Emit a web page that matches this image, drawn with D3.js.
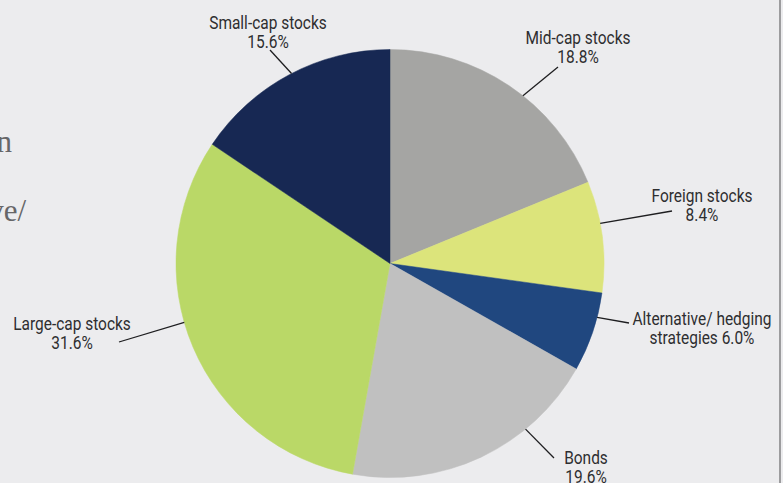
<!DOCTYPE html>
<html>
<head>
<meta charset="utf-8">
<script src="https://cdn.jsdelivr.net/npm/d3@7"></script>
<style>
  html, body { margin: 0; padding: 0; background: #ececee; }
  svg { display: block; }
  .lbl { font-family: Roboto, "Liberation Sans", sans-serif; font-size: 18px; fill: #2e2e30; }
  .side { font-family: "Liberation Serif", "Times New Roman", serif; font-size: 31px; fill: #666668; }
</style>
</head>
<body>
<svg id="chart" width="783" height="483"></svg>
<script>
// Portfolio allocation, clockwise from 12 o'clock
const categories = ["Mid-cap stocks", "Foreign stocks", "Alternative/ hedging strategies", "Bonds", "Large-cap stocks", "Small-cap stocks"];
const shares = [18.8, 8.4, 6.0, 19.6, 31.6, 15.6];
const labelLines = [
  ["Mid-cap stocks", "18.8%"],
  ["Foreign stocks", "8.4%"],
  ["Alternative/ hedging", "strategies 6.0%"],
  ["Bonds", "19.6%"],
  ["Large-cap stocks", "31.6%"],
  ["Small-cap stocks", "15.6%"]
];
const sliceColors = ["#a5a5a3", "#dce47b", "#20477f", "#c0c0c0", "#bad867", "#172853"];

// Callout layout: leader start angle on the rim (degrees clockwise from north),
// leader end point, and text centre / first baseline
const callouts = [
  { angle: 38.4,  ex: 558, ey: 67,  tx: 578, ty: 44 },
  { angle: 79.2,  ex: 672, ey: 211, tx: 702, ty: 202 },
  { angle: 104.6, ex: 629, ey: 323, tx: 702, ty: 325 },
  { angle: 140.7, ex: 554, ey: 458, tx: 586, ty: 464 },
  { angle: 254.0, ex: 119, ey: 342, tx: 72,  ty: 330 },
  { angle: 332.6, ex: 270, ey: 50,  tx: 268, ty: 29 }
];

const svg = d3.select("#chart");
const W = 783, H = 483;
const cx = 390, cy = 263.5, R = 214;
const squeeze = 0.86; // condensed look for the callout text

svg.append("rect").attr("width", W).attr("height", H).attr("fill", "#ececee");

// Fragments of the neighbouring text column, clipped at the left edge
svg.append("text").attr("class", "side").attr("x", 12).attr("y", 152).attr("text-anchor", "end").text("n");
svg.append("text").attr("class", "side").attr("x", 26).attr("y", 221).attr("text-anchor", "end").text("ve/");

// Frame edge on the right
svg.append("line").attr("x1", 780).attr("x2", 780).attr("y1", 0).attr("y2", H)
  .attr("stroke", "#9c9c9e").attr("stroke-width", 2);

const data = categories.map((c, i) => ({ name: c, value: shares[i], color: sliceColors[i], lines: labelLines[i], co: callouts[i] }));

const pie = d3.pie().sort(null).value(d => d.value).startAngle(0).endAngle(2 * Math.PI);
const arc = d3.arc().innerRadius(0).outerRadius(R);

const g = svg.append("g").attr("transform", `translate(${cx},${cy})`);
g.selectAll("path.slice")
  .data(pie(data))
  .join("path")
  .attr("class", "slice")
  .attr("d", arc)
  .attr("fill", d => d.data.color)
  .attr("stroke", d => d.data.color)
  .attr("stroke-width", 0.5);

// Leader lines
const rad = a => a * Math.PI / 180;
svg.selectAll("line.leader")
  .data(data)
  .join("line")
  .attr("class", "leader")
  .attr("x1", d => cx + R * Math.sin(rad(d.co.angle)))
  .attr("y1", d => cy - R * Math.cos(rad(d.co.angle)))
  .attr("x2", d => d.co.ex)
  .attr("y2", d => d.co.ey)
  .attr("stroke", "#1e1e20")
  .attr("stroke-width", 1.3);

// Two-line labels, narrowed horizontally
const labels = svg.selectAll("text.lbl")
  .data(data)
  .join("text")
  .attr("class", "lbl")
  .attr("text-anchor", "middle")
  .attr("transform", d => `translate(${d.co.tx},${d.co.ty}) scale(${squeeze},1)`);
labels.selectAll("tspan")
  .data(d => d.lines.map((t, i) => ({ t, i })))
  .join("tspan")
  .attr("x", 0)
  .attr("dy", d => d.i === 0 ? 0 : 19.5)
  .text(d => d.t);
</script>
</body>
</html>
